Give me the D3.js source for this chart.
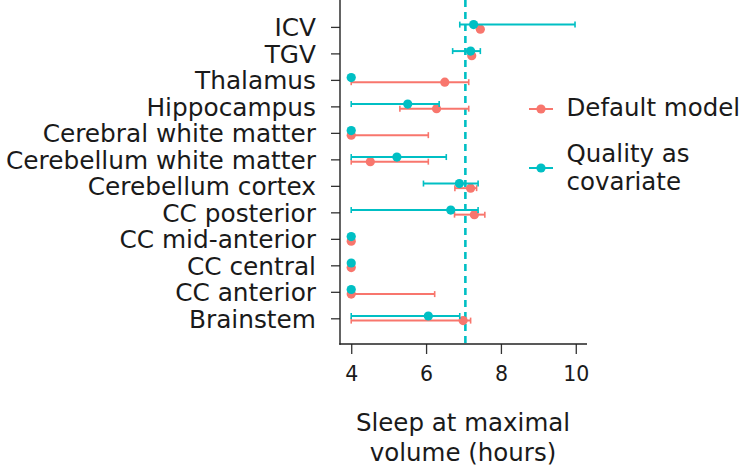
<!DOCTYPE html>
<html>
<head>
<meta charset="utf-8">
<script src="https://cdn.jsdelivr.net/npm/d3@7"></script>
<style>
  html, body { margin: 0; padding: 0; background: #fff; }
  svg { display: block; }
  text { font-family: "DejaVu Sans", "Open Sans", sans-serif; fill: #1a1a1a; }
</style>
</head>
<body>
<svg id="chart" width="746" height="471"></svg>
<script>
const regions = ["ICV", "TGV", "Thalamus", "Hippocampus", "Cerebral white matter",
  "Cerebellum white matter", "Cerebellum cortex", "CC posterior", "CC mid-anterior",
  "CC central", "CC anterior", "Brainstem"];

const defaultEst  = [7.45, 7.22, 6.50, 6.28, 4.00, 4.51, 7.19, 7.29, 4.00, 4.00, 4.00, 6.99];
const defaultLow  = [7.45, 7.22, 4.00, 5.30, 4.00, 4.00, 6.77, 6.76, 4.00, 4.00, 4.00, 4.00];
const defaultHigh = [7.45, 7.22, 7.14, 7.14, 6.06, 6.06, 7.35, 7.57, 4.00, 4.00, 6.23, 7.19];

const qualityEst  = [7.27, 7.19, 4.00, 5.51, 4.00, 5.22, 6.89, 6.66, 4.00, 4.00, 4.00, 6.06];
const qualityLow  = [6.90, 6.71, 4.00, 4.00, 4.00, 4.00, 5.93, 4.00, 4.00, 4.00, 4.00, 4.00];
const qualityHigh = [9.98, 7.45, 4.00, 6.35, 4.00, 6.54, 7.39, 7.39, 4.00, 4.00, 4.00, 6.90];

const xTicks = [4, 6, 8, 10];
const referenceLine = 7.05;
const seriesNames = ["Default model", "Quality as covariate"];
const seriesColors = ["#F8766D", "#00BFC4"];

const svg = d3.select("#chart");
const plot = { left: 340, right: 587, top: 0, bottom: 344 };

const x = d3.scaleLinear().domain([3.7, 10.3]).range([plot.left, plot.right]);
const y = d3.scalePoint().domain(regions).range([26.9, 318.3]);

const series = [
  { name: seriesNames[0], color: seriesColors[0], est: defaultEst, low: defaultLow, high: defaultHigh, dy: 2.3 },
  { name: seriesNames[1], color: seriesColors[1], est: qualityEst, low: qualityLow, high: qualityHigh, dy: -2.3 }
];

// axes
const yAxis = d3.axisLeft(y).tickSize(9).tickPadding(15);
const gy = svg.append("g").attr("transform", `translate(${plot.left},0)`).call(yAxis);
gy.select(".domain").remove();
gy.selectAll(".tick line").attr("stroke", "#333").attr("stroke-width", 1.3);
gy.selectAll(".tick text").style("font-size", "24.8px").attr("fill", "#1a1a1a").attr("dy", "0.36em");

const xAxis = d3.axisBottom(x).tickValues(xTicks).tickFormat(d3.format("d")).tickSize(10).tickPadding(12);
const gx = svg.append("g").attr("transform", `translate(0,${plot.bottom})`).call(xAxis);
gx.select(".domain").remove();
gx.selectAll(".tick line").attr("stroke", "#333").attr("stroke-width", 1.3);
gx.selectAll(".tick text").style("font-size", "20.5px").attr("fill", "#1a1a1a");

svg.append("line").attr("x1", plot.left).attr("x2", plot.left).attr("y1", plot.top).attr("y2", plot.bottom + 0.7)
  .attr("stroke", "#222").attr("stroke-width", 1.4);
svg.append("line").attr("x1", plot.left - 0.7).attr("x2", plot.right).attr("y1", plot.bottom).attr("y2", plot.bottom)
  .attr("stroke", "#222").attr("stroke-width", 1.4);

// axis title
const title = svg.append("text").attr("text-anchor", "middle").attr("x", 463).style("font-size", "24.5px");
title.append("tspan").attr("x", 463).attr("y", 431).text("Sleep at maximal");
title.append("tspan").attr("x", 463).attr("y", 461).text("volume (hours)");

// reference line
svg.append("line")
  .attr("x1", x(referenceLine)).attr("x2", x(referenceLine))
  .attr("y1", plot.top).attr("y2", plot.bottom)
  .attr("stroke", seriesColors[1]).attr("stroke-width", 2.6)
  .attr("stroke-dasharray", "7,5");

// error bars + points
const capH = 3;
series.forEach(s => {
  const g = svg.append("g");
  regions.forEach((r, i) => {
    const cy = y(r) + s.dy;
    if (s.high[i] > s.low[i]) {
      g.append("line").attr("x1", x(s.low[i])).attr("x2", x(s.high[i]))
        .attr("y1", cy).attr("y2", cy).attr("stroke", s.color).attr("stroke-width", 2);
      [s.low[i], s.high[i]].forEach(v => {
        g.append("line").attr("x1", x(v)).attr("x2", x(v))
          .attr("y1", cy - capH).attr("y2", cy + capH).attr("stroke", s.color).attr("stroke-width", 1.6);
      });
    }
    g.append("circle").attr("cx", x(s.est[i])).attr("cy", cy).attr("r", 4.6).attr("fill", s.color);
  });
});

// legend
const legendItems = [
  { color: seriesColors[0], lines: ["Default model"], cy: 109, baseline: 116 },
  { color: seriesColors[1], lines: ["Quality as", "covariate"], cy: 168, baseline: 161.5 }
];
legendItems.forEach(item => {
  svg.append("line").attr("x1", 529).attr("x2", 553).attr("y1", item.cy).attr("y2", item.cy)
    .attr("stroke", item.color).attr("stroke-width", 2);
  svg.append("circle").attr("cx", 541).attr("cy", item.cy).attr("r", 4.6).attr("fill", item.color);
  const t = svg.append("text").style("font-size", "24.5px");
  item.lines.forEach((l, k) => {
    t.append("tspan").attr("x", 566.5).attr("y", item.baseline + k * 28.5).text(l);
  });
});
</script>
</body>
</html>
